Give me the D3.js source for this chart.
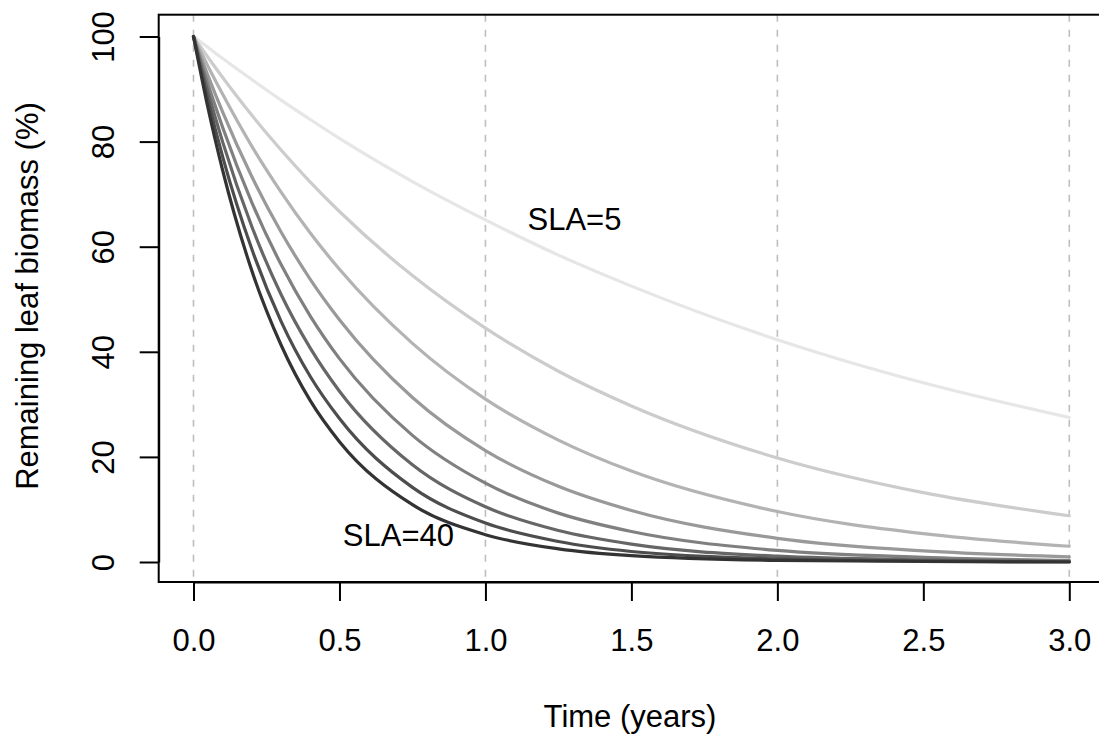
<!DOCTYPE html>
<html>
<head>
<meta charset="utf-8">
<script src="https://cdn.jsdelivr.net/npm/d3@7"></script>
<style>
  html, body { margin: 0; padding: 0; background: #fff; }
  svg { display: block; }
  text { font-family: "Liberation Sans", Arial, Helvetica, sans-serif; fill: #000; }
</style>
</head>
<body>
<svg id="chart" width="1099" height="734"></svg>
<script>
// ---- data ----
const times = [0, 0.05, 0.1, 0.2, 0.3, 0.4, 0.5, 0.75, 1, 1.25, 1.5, 2, 2.5, 3];
const slaLevels = [5, 10, 15, 20, 25, 30, 35, 40];
const sla5  = [100, 97.9, 95.8, 91.8, 87.9, 84.2, 80.6, 72.4, 65.1, 58.4, 52.5, 42.3, 34.1, 27.5];
const sla10 = [100, 96.0, 92.2, 85.0, 78.4, 72.3, 66.7, 54.5, 44.5, 36.3, 29.7, 19.8, 13.2, 8.8];
const sla15 = [100, 94.3, 89.0, 79.1, 70.4, 62.6, 55.7, 41.6, 31.0, 23.2, 17.3, 9.6, 5.4, 3.0];
const sla20 = [100, 92.5, 85.6, 73.3, 62.8, 53.8, 46.1, 31.3, 21.2, 14.4, 9.8, 4.5, 2.1, 1.0];
const sla25 = [100, 90.9, 82.7, 68.4, 56.6, 46.8, 38.7, 24.1, 15.0, 9.3, 5.8, 2.2, 0.9, 0.3];
const sla30 = [100, 89.4, 79.9, 63.8, 50.9, 40.7, 32.5, 18.5, 10.5, 6.0, 3.4, 1.1, 0.4, 0.1];
const sla35 = [100, 87.8, 77.1, 59.5, 45.8, 35.3, 27.3, 14.2, 7.4, 3.9, 2.0, 0.6, 0.2, 0.05];
const sla40 = [100, 86.3, 74.5, 55.4, 41.3, 30.7, 22.9, 10.9, 5.2, 2.5, 1.2, 0.3, 0.1, 0.0];
const seriesValues = [sla5, sla10, sla15, sla20, sla25, sla30, sla35, sla40];
const lineColors = ["#e6e6e6", "#cccccc", "#b3b3b3", "#999999", "#808080", "#666666", "#4d4d4d", "#333333"];
const xTicks = [0, 0.5, 1, 1.5, 2, 2.5, 3];
const yTicks = [0, 20, 40, 60, 80, 100];
const gridTimes = [0, 1, 2, 3];
const labels = [
  { text: "SLA=5",  t: 1.305, v: 65.2 },
  { text: "SLA=40", t: 0.702, v: 5.1 }
];
const xTitle = "Time (years)";
const yTitle = "Remaining leaf biomass (%)";

// ---- layout ----
const svg = d3.select("#chart");
const box = { left: 158.7, top: 14.7, right: 1104, bottom: 582 };
const x = d3.scaleLinear().domain([0, 3]).range([193.5, 1069.3]);
const y = d3.scaleLinear().domain([0, 100]).range([562, 36.5]);
const fs = 31;

// grid lines
svg.append("g").selectAll("line").data(gridTimes).join("line")
  .attr("x1", d => x(d)).attr("x2", d => x(d))
  .attr("y1", box.top).attr("y2", box.bottom)
  .attr("stroke", "#bebebe").attr("stroke-width", 1.6)
  .attr("stroke-dasharray", "7,8");

// curves
const line = d3.line()
  .x((d, i) => x(times[i]))
  .y(d => y(d))
  .curve(d3.curveMonotoneX);

svg.append("g").selectAll("path").data(seriesValues).join("path")
  .attr("d", d => line(d))
  .attr("fill", "none")
  .attr("stroke", (d, i) => lineColors[i])
  .attr("stroke-width", 3.2)
  .attr("stroke-linecap", "round")
  .attr("stroke-linejoin", "round");

// box
svg.append("rect")
  .attr("x", box.left).attr("y", box.top)
  .attr("width", box.right - box.left).attr("height", box.bottom - box.top)
  .attr("fill", "none").attr("stroke", "#000").attr("stroke-width", 2);

// x axis
const xAxis = d3.axisBottom(x).tickValues(xTicks).tickFormat(d3.format(".1f"))
  .tickSize(19).tickPadding(0).tickSizeOuter(0);
const gx = svg.append("g").attr("transform", `translate(0,${box.bottom})`).call(xAxis);
gx.select(".domain").attr("stroke", "#000").attr("stroke-width", 2);
gx.selectAll(".tick line").attr("stroke", "#000").attr("stroke-width", 2);
gx.selectAll(".tick text")
  .attr("font-size", fs).attr("font-family", "Liberation Sans, Arial, sans-serif")
  .attr("fill", "#000").attr("dy", null).attr("y", 651 - box.bottom)
  .style("dominant-baseline", "alphabetic");

// y axis
const yAxis = d3.axisLeft(y).tickValues(yTicks).tickFormat(d3.format("d"))
  .tickSize(19).tickPadding(0).tickSizeOuter(0);
const gy = svg.append("g").attr("transform", `translate(${box.left},0)`).call(yAxis);
gy.select(".domain").attr("stroke", "#000").attr("stroke-width", 2);
gy.selectAll(".tick line").attr("stroke", "#000").attr("stroke-width", 2);
gy.selectAll(".tick text")
  .attr("font-size", fs).attr("font-family", "Liberation Sans, Arial, sans-serif")
  .attr("fill", "#000")
  .attr("x", null).attr("dy", null)
  .attr("text-anchor", "middle")
  .attr("transform", `translate(${113.5 - box.left},0) rotate(-90)`)
  .attr("y", 0);

// titles
svg.append("text").text(xTitle)
  .attr("x", 630).attr("y", 727)
  .attr("text-anchor", "middle").attr("font-size", fs);
svg.append("text").text(yTitle)
  .attr("transform", `translate(38,296) rotate(-90)`)
  .attr("text-anchor", "middle").attr("font-size", fs);

// curve labels
svg.append("g").selectAll("text").data(labels).join("text")
  .text(d => d.text)
  .attr("x", d => x(d.t)).attr("y", d => y(d.v) + 11)
  .attr("text-anchor", "middle").attr("font-size", fs);
</script>
</body>
</html>
